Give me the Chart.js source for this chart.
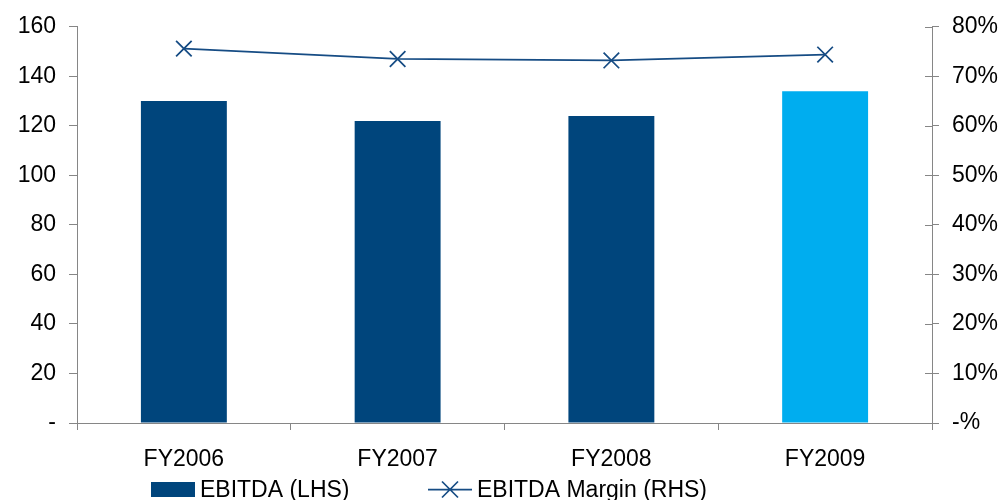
<!DOCTYPE html>
<html>
<head>
<meta charset="utf-8">
<script src="https://cdn.jsdelivr.net/npm/chart.js@4/dist/chart.umd.min.js"></script>
<style>
  html, body { margin: 0; padding: 0; background: #ffffff; }
  #wrap { width: 1001px; height: 500px; position: relative; }
</style>
</head>
<body>
<div id="wrap"><canvas id="chart" width="1001" height="500"></canvas></div>
<script>
// Fiscal years on the category axis
const categories = ['FY2006', 'FY2007', 'FY2008', 'FY2009'];
// EBITDA, left-hand scale
const ebitda = [130, 122, 124, 134];
// EBITDA margin in percent, right-hand scale
const ebitdaMargin = [75.6, 73.5, 73.2, 74.4];
// Bar fill per year (latest year in lighter blue)
const barColors = ['#00457c', '#00457c', '#00457c', '#00adef'];
// Tick labels
const leftTickLabels = { 0: '-', 20: '20', 40: '40', 60: '60', 80: '80', 100: '100', 120: '120', 140: '140', 160: '160' };
const rightTickLabels = { 0: '-%', 10: '10%', 20: '20%', 30: '30%', 40: '40%', 50: '50%', 60: '60%', 70: '70%', 80: '80%' };

const AXIS_GREY = '#868686';
const FONT = "'Liberation Sans', Arial, sans-serif";
const FONT_SIZE = 23;
const lineColor = '#164c84';

// Right axis ticks cross the axis line: draw the inner half here
const innerTicks = {
  id: 'innerTicks',
  afterDraw(chart) {
    const s = chart.scales.y2;
    const ctx = chart.ctx;
    ctx.save();
    ctx.strokeStyle = AXIS_GREY;
    ctx.lineWidth = 1;
    ctx.beginPath();
    s.ticks.forEach((t, i) => {
      const y = Math.round(s.getPixelForTick(i)) + 0.5;
      ctx.moveTo(s.left - 7, y);
      ctx.lineTo(s.left + 1, y);
    });
    ctx.stroke();
    ctx.restore();
  }
};

// Legend row under the axis: bar swatch and line-with-cross swatch
const bottomLegend = {
  id: 'bottomLegend',
  afterDraw(chart) {
    const ctx = chart.ctx;
    const bars = chart.data.datasets.find(d => d.type === 'bar');
    const line = chart.data.datasets.find(d => d.type === 'line');
    const cy = 489.5;
    const baseline = 496.5;
    ctx.save();
    ctx.font = FONT_SIZE + 'px ' + FONT;
    ctx.textBaseline = 'alphabetic';

    ctx.fillStyle = bars.backgroundColor[0];
    ctx.fillRect(151, 482, 44, 15);
    ctx.fillStyle = '#000000';
    ctx.fillText(bars.label, 200, baseline);

    ctx.strokeStyle = line.borderColor;
    ctx.lineWidth = 1.75;
    ctx.beginPath();
    ctx.moveTo(428, cy);
    ctx.lineTo(472, cy);
    const cx = 450, r = 8;
    ctx.moveTo(cx - r, cy - r);
    ctx.lineTo(cx + r, cy + r);
    ctx.moveTo(cx - r, cy + r);
    ctx.lineTo(cx + r, cy - r);
    ctx.stroke();
    ctx.fillText(line.label, 477, baseline);
    ctx.restore();
  }
};

new Chart(document.getElementById('chart'), {
  data: {
    labels: categories,
    datasets: [
      {
        type: 'line',
        label: 'EBITDA Margin (RHS)',
        data: ebitdaMargin,
        yAxisID: 'y2',
        borderColor: lineColor,
        borderWidth: 1.75,
        pointStyle: 'crossRot',
        pointRadius: 11,
        pointBorderWidth: 1.75,
        pointBorderColor: lineColor,
        pointBackgroundColor: lineColor,
        tension: 0,
        order: 0
      },
      {
        type: 'bar',
        label: 'EBITDA (LHS)',
        data: ebitda,
        yAxisID: 'y',
        backgroundColor: barColors,
        borderWidth: 0,
        categoryPercentage: 1,
        barPercentage: 0.402,
        order: 1
      }
    ]
  },
  options: {
    responsive: false,
    animation: false,
    layout: { padding: { top: 24, left: 0, right: 0, bottom: 0 } },
    plugins: { legend: { display: false }, tooltip: { enabled: false } },
    scales: {
      x: {
        offset: true,
        grid: { display: true, drawOnChartArea: false, offset: true, tickLength: 7, color: AXIS_GREY },
        border: { display: true, color: AXIS_GREY },
        ticks: { color: '#000000', font: { family: FONT, size: FONT_SIZE }, padding: 16, maxRotation: 0 },
        afterFit(s) { s.height = 77; }
      },
      y: {
        position: 'left',
        min: 0, max: 160,
        grid: { display: true, drawOnChartArea: false, tickLength: 8, color: AXIS_GREY },
        border: { display: true, color: AXIS_GREY },
        ticks: {
          stepSize: 20, color: '#000000', padding: 13,
          font: { family: FONT, size: FONT_SIZE },
          callback: (v) => leftTickLabels[v]
        },
        afterFit(s) { s.width = 77; }
      },
      y2: {
        position: 'right',
        min: 0, max: 80,
        grid: { display: true, drawOnChartArea: false, tickLength: 7, color: AXIS_GREY },
        border: { display: true, color: AXIS_GREY },
        ticks: {
          stepSize: 10, color: '#000000', padding: 13,
          font: { family: FONT, size: FONT_SIZE },
          callback: (v) => rightTickLabels[v]
        },
        afterFit(s) { s.width = 69; }
      }
    }
  },
  plugins: [innerTicks, bottomLegend]
});
</script>
</body>
</html>
